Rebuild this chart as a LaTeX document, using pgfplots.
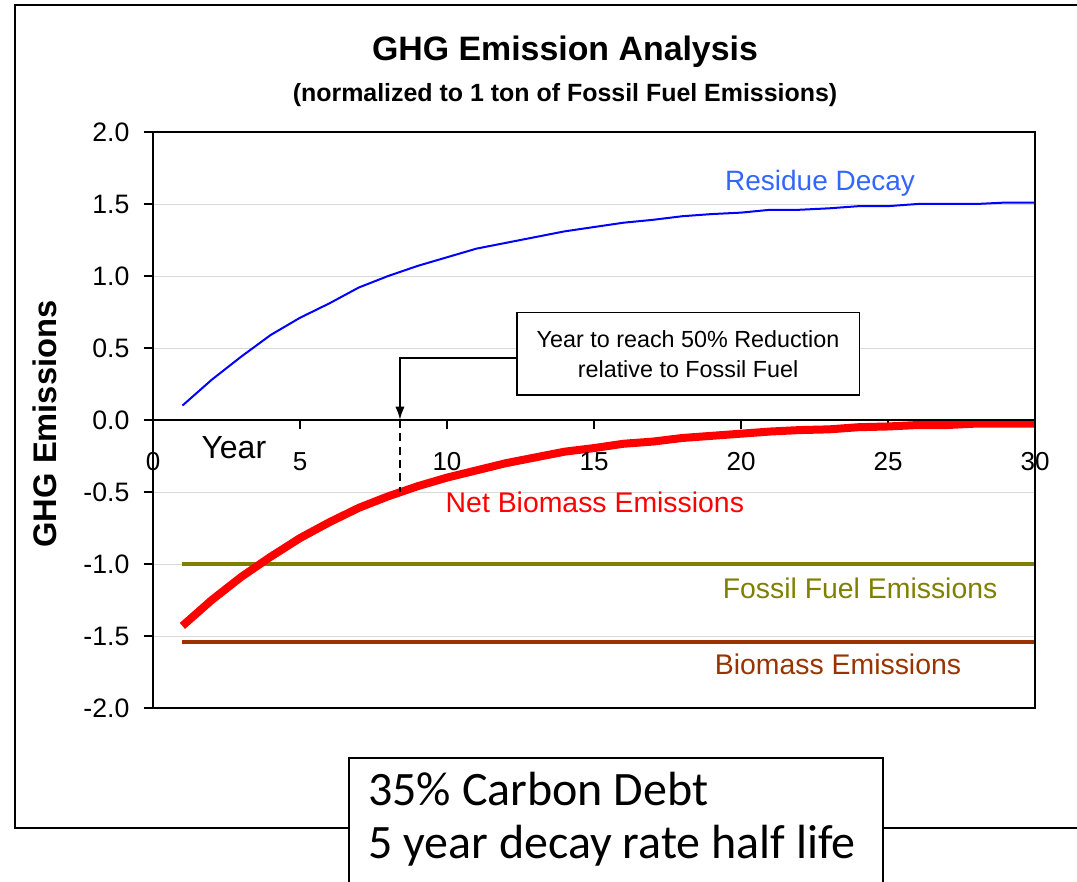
\documentclass[border=0pt]{standalone}
\usepackage{pgfplots}
\pgfplotsset{compat=1.18}
\usepackage{fontspec}
\setmainfont{Liberation Sans}
\newfontfamily\calibri{Carlito}
\usetikzlibrary{arrows.meta}
\definecolor{resblue}{RGB}{0,0,255}
\definecolor{reslabel}{RGB}{51,102,255}
\definecolor{olivec}{RGB}{128,128,0}
\definecolor{brownc}{RGB}{153,51,0}
\begin{document}
\begin{tikzpicture}[x=0.75pt,y=0.75pt]
\useasboundingbox (0,0) rectangle (1077,881);
\draw[line width=2pt] (1077,876) -- (15,876) -- (15,53) -- (1077,53);
\node[font=\bfseries\fontsize{25.4}{28}\selectfont] at (565,829) {GHG Emission Analysis};
\node[font=\bfseries\fontsize{18.7}{22}\selectfont] at (565,786) {(normalized to 1 ton of Fossil Fuel Emissions)};
\node[rotate=90, font=\bfseries\fontsize{24.5}{28}\selectfont] at (45,457) {GHG Emissions};
\begin{axis}[
  at={(114.75pt,129.75pt)}, anchor=south west,
  scale only axis, width=661.5pt, height=432pt,
  xmin=0, xmax=30, ymin=-2, ymax=2,
  axis x line=middle, axis y line=left,
  axis line style={-, line width=1.5pt, black},
  hide obscured x ticks=false, hide obscured y ticks=false,
  xtick={0,5,...,30}, xticklabels={}, ytick={-2,-1.5,...,2}, yticklabels={},
  tick align=outside, major tick length=7pt,
  tick style={black, line width=1.2pt},
  ymajorgrids, major grid style={gray!30, line width=0.6pt},
  clip=false,
]
\addplot[olivec, line width=3pt] coordinates {(1,-1) (30,-1)};
\addplot[brownc, line width=3pt] coordinates {(1,-1.54) (30,-1.54)};
\addplot[resblue, line width=1.5pt] coordinates {
(1,0.10) (2,0.28) (3,0.44) (4,0.59) (5,0.71) (6,0.81) (7,0.92) (8,1.00) (9,1.07) (10,1.13)
(11,1.19) (12,1.23) (13,1.27) (14,1.31) (15,1.34) (16,1.37) (17,1.39) (18,1.415) (19,1.43) (20,1.44)
(21,1.46) (22,1.46) (23,1.47) (24,1.485) (25,1.485) (26,1.50) (27,1.50) (28,1.50) (29,1.51) (30,1.51)};
\addplot[red, line width=6pt] coordinates {
(1,-1.43) (2,-1.25) (3,-1.09) (4,-0.95) (5,-0.82) (6,-0.71) (7,-0.61) (8,-0.53) (9,-0.46) (10,-0.40)
(11,-0.35) (12,-0.30) (13,-0.26) (14,-0.22) (15,-0.195) (16,-0.165) (17,-0.15) (18,-0.125) (19,-0.11) (20,-0.095)
(21,-0.08) (22,-0.07) (23,-0.065) (24,-0.05) (25,-0.045) (26,-0.035) (27,-0.035) (28,-0.025) (29,-0.025) (30,-0.025)};
\draw[line width=1.5pt] (rel axis cs:0,0) rectangle (rel axis cs:1,1);
\draw[line width=1.5pt] (axis cs:0,0) -- (axis cs:30,0);
\pgfplotsinvokeforeach{0,5,10,15,20,25,30}{
  \node[font=\fontsize{19.5}{21}\selectfont, inner sep=0pt] at (axis cs:#1,-0.2917) {#1};
}
\pgfplotsinvokeforeach{2.0,1.5,1.0,0.5,0.0,-1.0,-1.5,-2.0}{
  \node[font=\fontsize{20}{22}\selectfont, inner sep=0pt, anchor=east, xshift=-17.5pt] at (axis cs:0,#1) {#1};
}
\node[font=\fontsize{20}{22}\selectfont, inner sep=0pt, anchor=east, xshift=-17.5pt] at (axis cs:0,-0.5) {-0.5};
\draw[dash pattern=on 6pt off 4pt, line width=1.2pt] (axis cs:8.4,0) -- (axis cs:8.4,-0.50);
\draw[line width=1.5pt, -{Latex[length=10pt,width=7pt]}] (axis cs:12.38,0.43) -- (axis cs:8.4,0.43) -- (axis cs:8.4,0);
\node[draw, line width=1.2pt, fill=white, minimum width=257pt, minimum height=62pt, inner sep=0pt, align=center,
  font=\fontsize{17.5}{22.5}\selectfont] at (axis cs:18.2,0.46) {Year to reach 50\% Reduction\\relative to Fossil Fuel};
\node[font=\fontsize{24}{26}\selectfont] at (axis cs:2.75,-0.19) {Year};
\node[text=reslabel, font=\fontsize{21}{24}\selectfont] at (axis cs:22.69,1.646) {Residue Decay};
\node[text=red, font=\fontsize{21.3}{24}\selectfont] at (axis cs:15.03,-0.57) {Net Biomass Emissions};
\node[text=olivec, font=\fontsize{21.3}{24}\selectfont] at (axis cs:24.05,-1.167) {Fossil Fuel Emissions};
\node[text=brownc, font=\fontsize{21.3}{24}\selectfont] at (axis cs:23.3,-1.694) {Biomass Emissions};
\end{axis}
\draw[fill=white, line width=1.5pt] (349,-5) rectangle (883,123);
\node[anchor=base west, inner sep=0pt, font=\calibri\fontsize{36}{40}\selectfont] at (368,75) {35\% Carbon Debt};
\node[anchor=base west, inner sep=0pt, font=\calibri\fontsize{36}{40}\selectfont] at (368,22) {5 year decay rate half life};
\end{tikzpicture}
\end{document}
